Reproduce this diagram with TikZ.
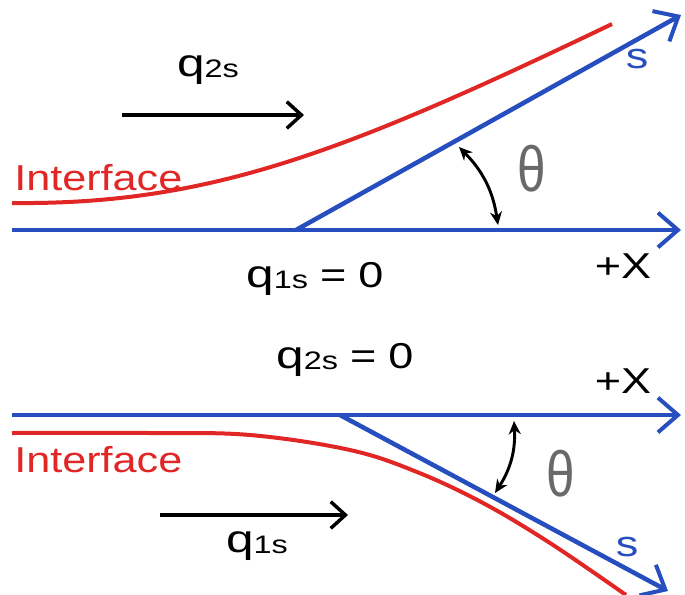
\documentclass[tikz,border=0pt]{standalone}
\usepackage{fontspec}
\setmainfont{Liberation Sans}
\usetikzlibrary{arrows.meta}
\definecolor{axblue}{RGB}{38,78,190}
\definecolor{ifred}{RGB}{225,38,38}
\definecolor{thgray}{RGB}{105,105,105}
\tikzset{
  axis/.style={draw=axblue, line width=3.4pt, -{Straight Barb[length=15pt,width=26pt,line width=3pt]}},
  iface/.style={draw=ifred, line width=3pt},
  flow/.style={draw=black, line width=3pt, -{Straight Barb[length=11pt,width=20pt,line width=2.6pt]}},
  angarr/.style={draw=black, line width=2.2pt, {Stealth[length=10pt,width=9pt]}-{Stealth[length=10pt,width=9pt]}},
  lbl/.style={inner sep=0pt},
  redlbl/.style={lbl, text=ifred},
  bluelbl/.style={lbl, text=axblue},
  thlbl/.style={inner sep=0pt, text=thgray}
}
\newcommand{\mainsz}{\fontsize{27}{30}\selectfont}
\newcommand{\qsym}[1]{\scalebox{1.28}[1]{\fontsize{29}{32}\selectfont q\raisebox{-1pt}{\fontsize{19}{22}\selectfont #1}}}
\newcommand{\wtxt}[1]{\scalebox{1.25}[1]{\mainsz #1}}
\newcommand{\thsym}{\scalebox{0.8}[1]{\fontsize{48}{52}\selectfont θ}}
\begin{document}
\begin{tikzpicture}[x=0.75pt,y=-0.75pt]
\useasboundingbox (0,0) rectangle (685,594);
% ---------- top panel ----------
\coordinate (tx0) at (12,230);
\coordinate (tx1) at (681,230);
\coordinate (tv) at (296,230);
\coordinate (ts1) at (681,15);
\draw[axis] (tx0) -- (tx1);
\draw[axis] (tv) -- (ts1);
\coordinate (tr0) at (12,203);
\coordinate (tr1) at (612,24);
\draw[iface] (tr0) .. controls (210,205) and (345,152) .. (tr1);
\coordinate (tf0) at (122,115);
\coordinate (tf1) at (304,115);
\draw[flow] (tf0) -- (tf1);
\node[lbl, anchor=base] (tq) at (208,76) {\qsym{2s}};
\node[redlbl, anchor=base west] (tint) at (14,190) {\scalebox{1.2}[1]{\mainsz Interface}};
\node[bluelbl, anchor=base] (tsl) at (637,68) {\wtxt{s}};
\node[lbl, anchor=base] (txl) at (623,278) {\wtxt{+X}};
\node[lbl, anchor=base west] (tq1) at (246,287) {\qsym{1s}\hspace{9pt}\wtxt{=}\hspace{9pt}\wtxt{0}};
\node[thlbl] (tth) at (532,169) {\thsym};
\coordinate (ta0) at (459,147);
\coordinate (ta1) at (498,225);
\draw[angarr] (ta0) to[bend left=18] (ta1);
% ---------- bottom panel ----------
\coordinate (bx0) at (12,415);
\coordinate (bx1) at (681,415);
\coordinate (bv) at (340,415);
\coordinate (bs1) at (668,591);
\draw[axis] (bx0) -- (bx1);
\draw[axis] (bv) -- (bs1);
\coordinate (br0) at (12,433);
\coordinate (br1) at (626,595);
\draw[iface] plot[smooth, tension=0.6] coordinates {(12,433) (150,433) (250,435) (350,450) (417,472) (483,503) (550,543) (626,595)};
\coordinate (bf0) at (160,515);
\coordinate (bf1) at (348,515);
\draw[flow] (bf0) -- (bf1);
\node[lbl, anchor=base] (bq) at (257,552) {\qsym{1s}};
\node[redlbl, anchor=base west] (bint) at (14,472) {\scalebox{1.2}[1]{\mainsz Interface}};
\node[bluelbl, anchor=base] (bsl) at (627,556) {\wtxt{s}};
\node[lbl, anchor=base] (bxl) at (623,393) {\wtxt{+X}};
\node[lbl, anchor=base west] (bq2) at (276,368) {\qsym{2s}\hspace{9pt}\wtxt{=}\hspace{9pt}\wtxt{0}};
\node[thlbl] (bth) at (561,474) {\thsym};
\coordinate (ba0) at (514,421);
\coordinate (ba1) at (495,493);
\draw[angarr] (ba0) to[bend left=18] (ba1);
\end{tikzpicture}
\end{document}
